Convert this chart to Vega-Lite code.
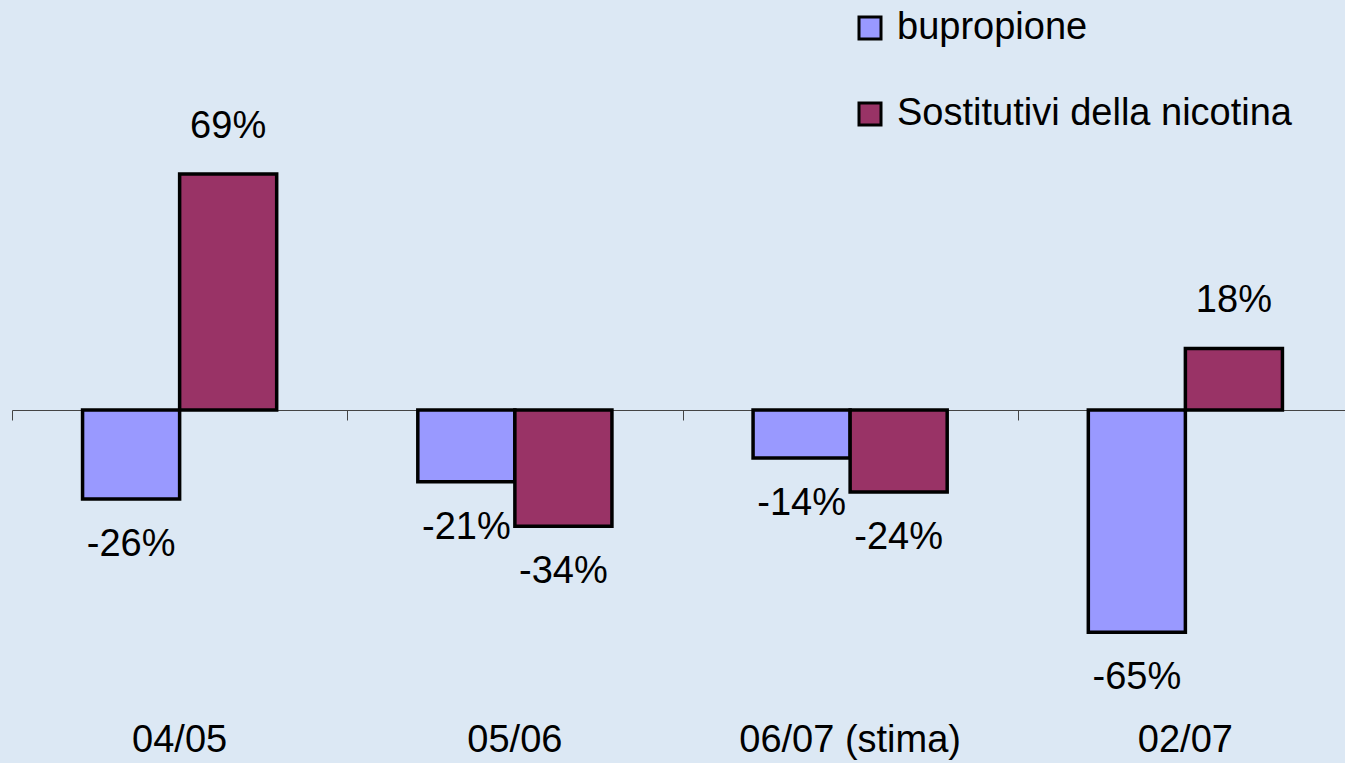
{
  "$schema": "https://vega.github.io/schema/vega-lite/v6.json",
  "width": 1341,
  "height": 725,
  "padding": {"left": 12, "top": 0, "right": 0, "bottom": 38},
  "autosize": {"type": "none"},
  "background": "#DCE8F4",
  "config": {
    "view": {"stroke": null},
    "font": "Liberation Sans",
    "locale": {"number": {"decimal": ".", "thousands": ",", "grouping": [3], "currency": ["", ""], "minus": "-"}}
  },
  "data": {
    "values": [
      {"period": "04/05", "series": "bupropione", "value": -0.26},
      {"period": "04/05", "series": "Sostitutivi della nicotina", "value": 0.69},
      {"period": "05/06", "series": "bupropione", "value": -0.21},
      {"period": "05/06", "series": "Sostitutivi della nicotina", "value": -0.34},
      {"period": "06/07 (stima)", "series": "bupropione", "value": -0.14},
      {"period": "06/07 (stima)", "series": "Sostitutivi della nicotina", "value": -0.24},
      {"period": "02/07", "series": "bupropione", "value": -0.65},
      {"period": "02/07", "series": "Sostitutivi della nicotina", "value": 0.18}
    ]
  },
  "encoding": {
    "x": {
      "field": "period", "type": "nominal", "sort": null,
      "scale": {"paddingInner": 0, "paddingOuter": 0}
    },
    "xOffset": {"field": "series", "type": "nominal", "sort": null, "scale": {"paddingInner": 0, "paddingOuter": 0.727}},
    "y": {
      "field": "value", "type": "quantitative",
      "scale": {"domain": [-0.921, 1.199], "nice": false, "zero": false},
      "axis": null
    }
  },
  "layer": [
    {
      "mark": {"type": "bar", "stroke": "black", "strokeWidth": 3.5},
      "encoding": {
        "x": {
          "field": "period", "type": "nominal", "sort": null,
          "axis": {
            "orient": "bottom", "title": null, "domain": false, "ticks": false, "grid": false,
            "labelAngle": 0, "labelFontSize": 38, "labelColor": "black", "labelPadding": -4,
            "labelFont": "Liberation Sans", "labelLimit": 500
          }
        },
        "color": {
          "field": "series", "type": "nominal", "sort": null,
          "scale": {"domain": ["bupropione", "Sostitutivi della nicotina"], "range": ["#9999FF", "#993366"]},
          "legend": {
            "orient": "none", "legendX": 839, "legendY": 9, "title": null,
            "padding": 0, "symbolType": "square", "symbolSize": 484,
            "symbolStrokeColor": "black", "symbolStrokeWidth": 3,
            "labelFontSize": 38, "labelColor": "black", "labelFont": "Liberation Sans",
            "labelOffset": 8, "rowPadding": 48, "labelLimit": 600
          }
        }
      }
    },
    {
      "transform": [{"filter": "datum.value >= 0"}],
      "mark": {"type": "text", "fontSize": 38, "baseline": "middle", "align": "center", "dy": -47, "color": "black", "font": "Liberation Sans"},
      "encoding": {
        "x": {
          "field": "period", "type": "nominal", "sort": null,
          "axis": {
            "orient": "top", "offset": -410, "title": null, "labels": false, "grid": false,
            "domain": true, "domainColor": "#444444", "domainWidth": 1,
            "ticks": true, "tickBand": "extent", "tickSize": -10, "tickColor": "#444444", "tickWidth": 1
          }
        },
        "text": {"field": "value", "type": "quantitative", "format": ".0%"}
      }
    },
    {
      "transform": [{"filter": "datum.value < 0"}],
      "mark": {"type": "text", "fontSize": 38, "baseline": "middle", "align": "center", "dy": 46, "color": "black", "font": "Liberation Sans"},
      "encoding": {
        "x": {"field": "period", "type": "nominal", "sort": null, "axis": null},
        "text": {"field": "value", "type": "quantitative", "format": ".0%"}
      }
    }
  ],
  "resolve": {"axis": {"x": "independent"}}
}
